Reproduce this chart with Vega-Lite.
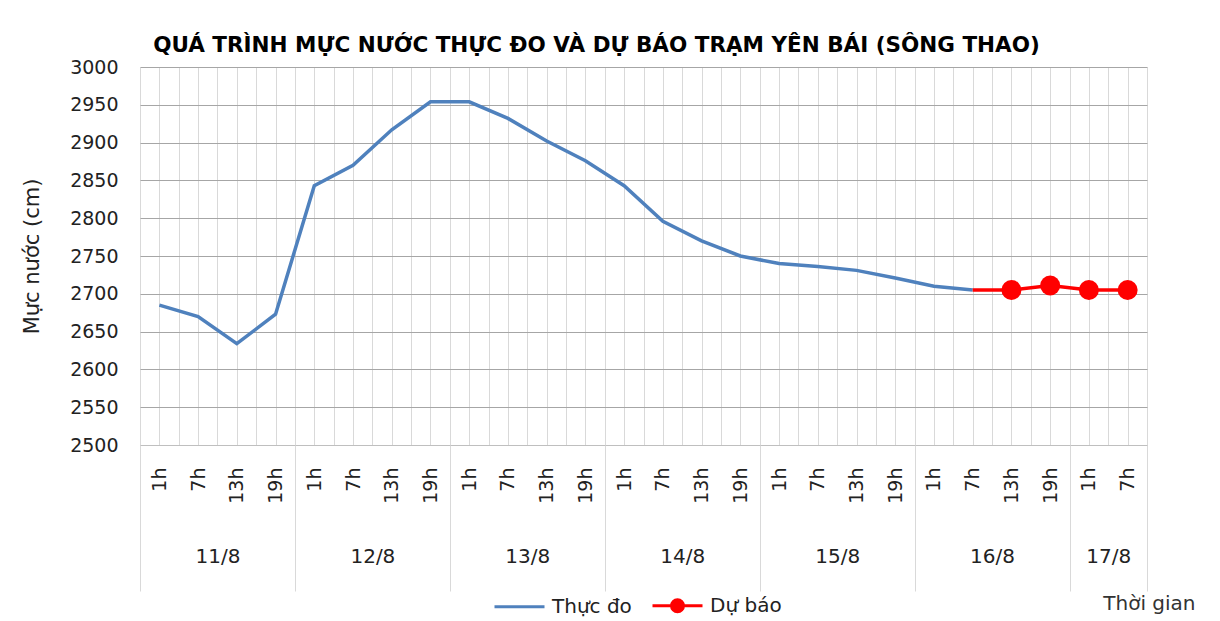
{
  "$schema": "https://vega.github.io/schema/vega-lite/v6.json",
  "width": 1007,
  "height": 378,
  "autosize": {"type": "none"},
  "padding": {"left": 140, "top": 67, "right": 73, "bottom": 176},
  "background": "white",
  "title": {
    "text": "QUÁ TRÌNH MỰC NƯỚC THỰC ĐO VÀ DỰ BÁO TRẠM YÊN BÁI (SÔNG THAO)",
    "font": "DejaVu Sans", "fontSize": 21.5, "fontWeight": "bold", "color": "#000000",
    "anchor": "middle", "dx": -47, "offset": 2
  },
  "config": {"view": {"stroke": null}, "font": "DejaVu Sans"},
  "data": {
    "values": [
      {"i": 0, "day": "11/8", "hour": "1h", "v": 2685, "series": "Thực đo"},
      {"i": 1, "day": "11/8", "hour": "7h", "v": 2670, "series": "Thực đo"},
      {"i": 2, "day": "11/8", "hour": "13h", "v": 2634, "series": "Thực đo"},
      {"i": 3, "day": "11/8", "hour": "19h", "v": 2673, "series": "Thực đo"},
      {"i": 4, "day": "12/8", "hour": "1h", "v": 2843, "series": "Thực đo"},
      {"i": 5, "day": "12/8", "hour": "7h", "v": 2870, "series": "Thực đo"},
      {"i": 6, "day": "12/8", "hour": "13h", "v": 2917, "series": "Thực đo"},
      {"i": 7, "day": "12/8", "hour": "19h", "v": 2954, "series": "Thực đo"},
      {"i": 8, "day": "13/8", "hour": "1h", "v": 2954, "series": "Thực đo"},
      {"i": 9, "day": "13/8", "hour": "7h", "v": 2932, "series": "Thực đo"},
      {"i": 10, "day": "13/8", "hour": "13h", "v": 2902, "series": "Thực đo"},
      {"i": 11, "day": "13/8", "hour": "19h", "v": 2876, "series": "Thực đo"},
      {"i": 12, "day": "14/8", "hour": "1h", "v": 2843, "series": "Thực đo"},
      {"i": 13, "day": "14/8", "hour": "7h", "v": 2796, "series": "Thực đo"},
      {"i": 14, "day": "14/8", "hour": "13h", "v": 2770, "series": "Thực đo"},
      {"i": 15, "day": "14/8", "hour": "19h", "v": 2750, "series": "Thực đo"},
      {"i": 16, "day": "15/8", "hour": "1h", "v": 2740, "series": "Thực đo"},
      {"i": 17, "day": "15/8", "hour": "7h", "v": 2736, "series": "Thực đo"},
      {"i": 18, "day": "15/8", "hour": "13h", "v": 2731, "series": "Thực đo"},
      {"i": 19, "day": "15/8", "hour": "19h", "v": 2721, "series": "Thực đo"},
      {"i": 20, "day": "16/8", "hour": "1h", "v": 2710, "series": "Thực đo"},
      {"i": 21, "day": "16/8", "hour": "7h", "v": 2705, "series": "Thực đo"},
      {"i": 21, "day": "16/8", "hour": "7h", "v": 2705, "series": "Dự báo"},
      {"i": 22, "day": "16/8", "hour": "13h", "v": 2705, "series": "Dự báo"},
      {"i": 23, "day": "16/8", "hour": "19h", "v": 2711, "series": "Dự báo"},
      {"i": 24, "day": "17/8", "hour": "1h", "v": 2705, "series": "Dự báo"},
      {"i": 25, "day": "17/8", "hour": "7h", "v": 2705, "series": "Dự báo"}
    ]
  },
  "resolve": {"axis": {"x": "independent"}},
  "layer": [
    {
      "mark": {"type": "line", "strokeWidth": 3.5},
      "encoding": {
        "x": {
          "field": "i", "type": "quantitative",
          "scale": {"domain": [-0.5, 25.5], "nice": false, "zero": false},
          "axis": {
            "orient": "bottom",
            "values": [-0.5,0,0.5,1,1.5,2,2.5,3,3.5,4,4.5,5,5.5,6,6.5,7,7.5,8,8.5,9,9.5,10,10.5,11,11.5,12,12.5,13,13.5,14,14.5,15,15.5,16,16.5,17,17.5,18,18.5,19,19.5,20,20.5,21,21.5,22,22.5,23,23.5,24,24.5,25,25.5],
            "grid": true, "gridColor": "#d9d9d9", "gridWidth": 1,
            "labels": false, "ticks": false, "domain": true, "domainColor": "#bfbfbf", "title": null
          }
        },
        "y": {
          "field": "v", "type": "quantitative",
          "scale": {"domain": [2500, 3000], "nice": false, "zero": false},
          "title": "Mực nước (cm)",
          "axis": {
            "values": [2500,2550,2600,2650,2700,2750,2800,2850,2900,2950,3000],
            "format": "d", "labelOverlap": false,
            "grid": true, "gridColor": "#a6a6a6", "gridWidth": 1,
            "ticks": false, "domain": false,
            "labelFontSize": 19, "labelPadding": 22, "labelColor": "#222222",
            "title": "Mực nước (cm)", "titleFontSize": 21, "titleFontWeight": "normal",
            "titleColor": "#222222", "titleX": -108, "titleBaseline": "middle"
          }
        },
        "color": {
          "field": "series", "type": "nominal",
          "scale": {"domain": ["Thực đo", "Dự báo"], "range": ["#4F81BD", "#FF0000"]},
          "legend": {
            "title": null, "orient": "none", "direction": "horizontal",
            "legendX": 353, "legendY": 512,
            "labelFontSize": 20, "labelColor": "#222222", "labelOffset": 6,
            "symbolSize": 2500, "symbolStrokeWidth": 3, "columnPadding": 14,
            "encode": {
              "symbols": {
                "update": {
                  "shape": {"signal": "datum.value === 'Dự báo' ? 'M-1,0L1,0M-0.24,0A0.24,0.24 0 1,0 0.24,0A0.24,0.24 0 1,0 -0.24,0' : 'M-1,0L1,0'"},
                  "fill": {"signal": "datum.value === 'Dự báo' ? '#FF0000' : 'transparent'"}
                }
              }
            }
          }
        }
      }
    },
    {
      "transform": [{"filter": "datum.i > 21"}],
      "mark": {"type": "point", "filled": true, "size": 400, "opacity": 1, "color": "#FF0000"},
      "encoding": {
        "x": {
          "field": "i", "type": "quantitative",
          "axis": {
            "orient": "bottom",
            "values": [0,1,2,3,4,5,6,7,8,9,10,11,12,13,14,15,16,17,18,19,20,21,22,23,24,25],
            "labelExpr": "['1h','7h','13h','19h'][datum.value % 4]",
            "labelAngle": 270, "labelAlign": "right", "labelBaseline": "middle",
            "labelPadding": 22, "labelFontSize": 19, "labelColor": "#222222",
            "grid": false, "ticks": false, "domain": false, "title": null
          }
        },
        "y": {
          "field": "v", "type": "quantitative", "title": "Mực nước (cm)",
          "axis": {
            "values": [2500,2550,2600,2650,2700,2750,2800,2850,2900,2950,3000],
            "format": "d", "labelOverlap": false,
            "grid": true, "gridColor": "#a6a6a6", "gridWidth": 1,
            "ticks": false, "domain": false,
            "labelFontSize": 19, "labelPadding": 22, "labelColor": "#222222",
            "title": "Mực nước (cm)", "titleFontSize": 21, "titleFontWeight": "normal",
            "titleColor": "#222222", "titleX": -108, "titleBaseline": "middle"
          }
        }
      }
    },
    {
      "mark": {"type": "point", "opacity": 0},
      "encoding": {
        "x": {
          "field": "i", "type": "quantitative",
          "axis": {
            "orient": "bottom",
            "values": [1.5, 5.5, 9.5, 13.5, 17.5, 21.5, 24.5],
            "labelExpr": "['11/8','12/8','13/8','14/8','15/8','16/8','17/8'][floor((datum.value + 0.5) / 4)]",
            "labelAngle": 0, "labelAlign": "center", "labelBaseline": "middle",
            "labelPadding": 111, "labelFontSize": 20, "labelColor": "#222222",
            "grid": false, "ticks": false, "domain": false,
            "title": "Thời gian", "titleFontSize": 20, "titleFontWeight": "normal", "titleColor": "#333333",
            "titleX": 1055, "titleY": 158, "titleAlign": "right", "titleBaseline": "middle"
          }
        },
        "y": {
          "field": "v", "type": "quantitative", "title": "Mực nước (cm)",
          "axis": {
            "values": [2500,2550,2600,2650,2700,2750,2800,2850,2900,2950,3000],
            "format": "d", "labelOverlap": false,
            "grid": true, "gridColor": "#a6a6a6", "gridWidth": 1,
            "ticks": false, "domain": false,
            "labelFontSize": 19, "labelPadding": 22, "labelColor": "#222222",
            "title": "Mực nước (cm)", "titleFontSize": 21, "titleFontWeight": "normal",
            "titleColor": "#222222", "titleX": -108, "titleBaseline": "middle"
          }
        }
      }
    },
    {
      "mark": {"type": "point", "opacity": 0},
      "encoding": {
        "x": {
          "field": "i", "type": "quantitative",
          "axis": {
            "orient": "bottom",
            "values": [-0.5, 3.5, 7.5, 11.5, 15.5, 19.5, 23.5, 25.5],
            "labels": false, "ticks": true, "tickSize": 146, "tickColor": "#d9d9d9", "tickWidth": 1,
            "grid": false, "domain": false, "title": null
          }
        },
        "y": {
          "field": "v", "type": "quantitative", "title": "Mực nước (cm)",
          "axis": {
            "values": [2500,2550,2600,2650,2700,2750,2800,2850,2900,2950,3000],
            "format": "d", "labelOverlap": false,
            "grid": true, "gridColor": "#a6a6a6", "gridWidth": 1,
            "ticks": false, "domain": false,
            "labelFontSize": 19, "labelPadding": 22, "labelColor": "#222222",
            "title": "Mực nước (cm)", "titleFontSize": 21, "titleFontWeight": "normal",
            "titleColor": "#222222", "titleX": -108, "titleBaseline": "middle"
          }
        }
      }
    }
  ]
}
